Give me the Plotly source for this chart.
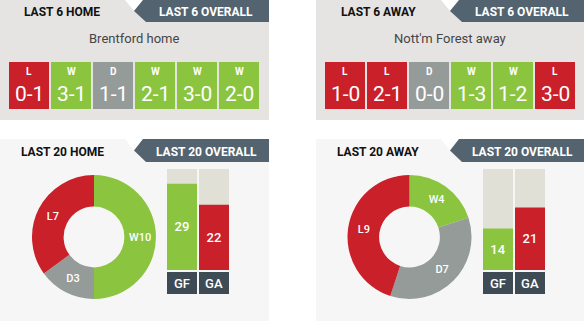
import plotly.graph_objects as go

# ---------------- data ----------------
home_title = "Brentford home"
away_title = "Nott'm Forest away"

home6_results = ["L", "W", "D", "W", "W", "W"]
home6_scores = ["0-1", "3-1", "1-1", "2-1", "3-0", "2-0"]
away6_results = ["L", "L", "D", "W", "W", "L"]
away6_scores = ["1-0", "2-1", "0-0", "1-3", "1-2", "3-0"]

outcome_labels = ["W", "D", "L"]
home20_counts = [10, 3, 7]
away20_counts = [4, 7, 9]

goal_labels = ["GF", "GA"]
home20_goals = [29, 22]
away20_goals = [14, 21]
goals_scale_max = 34

# ---------------- style ----------------
W, H = 584, 321
RED, GREEN, GREY = "#c9202a", "#8bc43f", "#959b98"
TAB = "#53636f"
LBL = "#3e4a54"
BEIGE = "#e1e0d6"
TOP_BG, BOT_BG = "#e6e4e2", "#f6f6f6"
FONT = "Roboto"
res_color = {"W": GREEN, "D": GREY, "L": RED}


def px(x):
    return x / W


def py(y):
    return 1 - y / H


fig = go.Figure()
shapes = []
annotations = []


def panel(x0, y0, y1, tab_h, bg):
    xr = x0 + 269 if x0 == 0 else 584
    shapes.append(dict(type="rect", xref="paper", yref="paper",
                       x0=px(x0), x1=px(xr),
                       y0=py(y1), y1=py(y0), fillcolor=bg, line_width=0, layer="below"))
    a, b, c, d = x0 + 125, x0 + 143, x0 + 134, x0 + 146
    mid = y0 + tab_h / 2
    shapes.append(dict(type="path", xref="paper", yref="paper",
                       path=f"M {px(a)},{py(y0)} L {px(b)},{py(y0)} L {px(c)},{py(mid)} Z",
                       fillcolor="white", line_width=0, layer="below"))
    shapes.append(dict(type="path", xref="paper", yref="paper",
                       path=(f"M {px(b)},{py(y0)} L {px(xr)},{py(y0)} L {px(xr)},{py(y0 + tab_h)} "
                             f"L {px(d)},{py(y0 + tab_h)} L {px(c)},{py(mid)} Z"),
                       fillcolor=TAB, line_width=0, layer="below"))


def text(x, y, s, size, color, bold=False, xref="paper", yref="paper"):
    annotations.append(dict(x=px(x) if xref == "paper" else x,
                            y=py(y) if yref == "paper" else y,
                            xref=xref, yref=yref, text=f"<b>{s}</b>" if bold else s,
                            showarrow=False, xanchor="center", yanchor="middle",
                            font=dict(family=FONT, size=size, color=color)))


panel(0, 0, 120, 22, TOP_BG)
panel(316, 0, 120, 22, TOP_BG)
panel(0, 139, 330, 23, BOT_BG)
panel(316, 139, 330, 23, BOT_BG)

text(62, 12, "LAST 6 HOME", 12, "#111111", True)
text(206, 12, "LAST 6 OVERALL", 12, "white", True)
text(378, 12, "LAST 6 AWAY", 12, "#111111", True)
text(522, 12, "LAST 6 OVERALL", 12, "white", True)
text(134, 38, home_title, 13, "#454545")
text(450, 38, away_title, 13, "#454545")
text(62, 152, "LAST 20 HOME", 12, "#111111", True)
text(206, 152, "LAST 20 OVERALL", 12, "white", True)
text(378, 152, "LAST 20 AWAY", 12, "#111111", True)
text(522, 152, "LAST 20 OVERALL", 12, "white", True)

layout_axes = {}


def ax(name, domain, rng):
    layout_axes[name] = dict(domain=domain, range=rng, visible=False, fixedrange=True)


# ---------- last 6 result boxes ----------
for i, (res, sc, x0) in enumerate([(home6_results, home6_scores, 8), (away6_results, away6_scores, 324)]):
    n = i + 1
    xa, ya = ("x", "y") if n == 1 else (f"x{n}", f"y{n}")
    idx = list(range(len(res)))
    fig.add_trace(go.Bar(x=idx, y=[1] * len(res), width=40 / 42,
                         marker=dict(color=[res_color[r] for r in res], line_width=0),
                         xaxis=xa, yaxis=ya, hoverinfo="skip", showlegend=False))
    ax("xaxis" if n == 1 else f"xaxis{n}", [px(x0), px(x0 + 252)], [-0.5, len(res) - 0.5])
    ax("yaxis" if n == 1 else f"yaxis{n}", [py(109), py(62)], [0, 1])
    for j in idx:
        text(j, 0.80, res[j], 10, "white", True, xref=xa, yref=ya)
        text(j, 0.31, sc[j], 21, "white", False, xref=xa, yref=ya)

# ---------- last 20 donuts ----------
for counts, cx in [(home20_counts, 94), (away20_counts, 409.5)]:
    fig.add_trace(go.Pie(labels=outcome_labels, values=counts,
                         text=[f"{l}{v}" for l, v in zip(outcome_labels, counts)],
                         textinfo="text", textposition="inside",
                         insidetextorientation="horizontal",
                         textfont=dict(family=FONT, size=11, color="white", weight=500),
                         marker=dict(colors=[GREEN, GREY, RED], line=dict(width=0)),
                         hole=0.49, sort=False, direction="clockwise", rotation=0,
                         domain=dict(x=[px(cx - 62), px(cx + 62)], y=[py(299), py(175)]),
                         hoverinfo="skip", showlegend=False))

# ---------- goals bars ----------
for k, (goals, x0) in enumerate([(home20_goals, 166), (away20_goals, 482)]):
    nb = 3 + 2 * k
    nl = nb + 1
    idx = list(range(len(goals)))
    fig.add_trace(go.Bar(x=idx, y=[goals_scale_max] * len(goals), width=30 / 32,
                         marker=dict(color=BEIGE, line_width=0),
                         xaxis=f"x{nb}", yaxis=f"y{nb}", hoverinfo="skip", showlegend=False))
    fig.add_trace(go.Bar(x=idx, y=goals, width=30 / 32, text=[str(g) for g in goals],
                         textposition="inside", insidetextanchor="middle", textangle=0,
                         textfont=dict(family=FONT, size=13, color="white", weight=500),
                         marker=dict(color=[GREEN, RED], line_width=0),
                         xaxis=f"x{nb}", yaxis=f"y{nb}", hoverinfo="skip", showlegend=False))
    ax(f"xaxis{nb}", [px(x0), px(x0 + 64)], [-0.5, 1.5])
    ax(f"yaxis{nb}", [py(270), py(169)], [0, goals_scale_max])
    fig.add_trace(go.Bar(x=idx, y=[1] * len(goals), width=30 / 32, text=goal_labels,
                         textposition="inside", insidetextanchor="middle", textangle=0,
                         textfont=dict(family=FONT, size=13, color="white", weight=500),
                         marker=dict(color=LBL, line_width=0),
                         xaxis=f"x{nl}", yaxis=f"y{nl}", hoverinfo="skip", showlegend=False))
    ax(f"xaxis{nl}", [px(x0), px(x0 + 64)], [-0.5, 1.5])
    ax(f"yaxis{nl}", [py(294), py(272)], [0, 1])

fig.update_layout(width=W, height=H, margin=dict(l=0, r=0, t=0, b=0),
                  paper_bgcolor="white", plot_bgcolor="rgba(0,0,0,0)",
                  barmode="overlay", showlegend=False, hovermode=False,
                  uniformtext=dict(minsize=8, mode="show"),
                  font=dict(family=FONT),
                  shapes=shapes, annotations=annotations, **layout_axes)

fig.write_html("out.html", config={"displayModeBar": False})
